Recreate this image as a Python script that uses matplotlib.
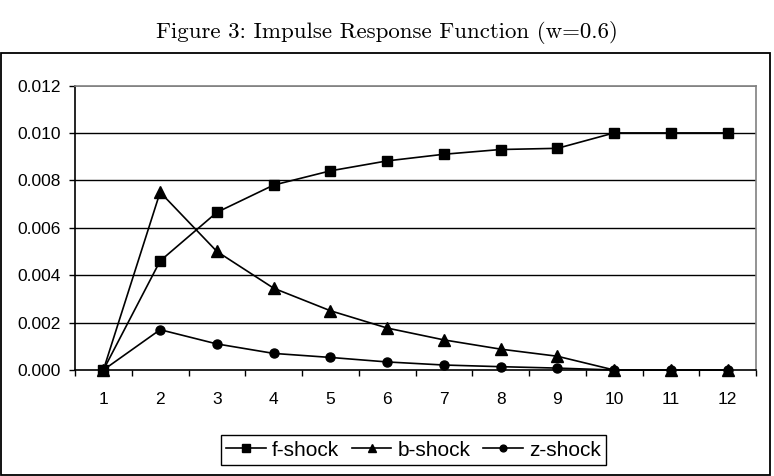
import matplotlib
matplotlib.use("Agg")
import matplotlib.pyplot as plt
from matplotlib.patches import Rectangle

periods = [1, 2, 3, 4, 5, 6, 7, 8, 9, 10, 11, 12]
f_shock = [0.0, 0.0046, 0.00665, 0.0078, 0.0084, 0.00882, 0.0091, 0.0093, 0.00935, 0.0100, 0.0100, 0.0100]
b_shock = [0.0, 0.0075, 0.0050, 0.00345, 0.0025, 0.00177, 0.00127, 0.00088, 0.00058, 0.0, 0.0, 0.0]
z_shock = [0.0, 0.0017, 0.0011, 0.0007, 0.00053, 0.00034, 0.00021, 0.00014, 0.00008, 0.0, 0.0, 0.0]
y_ticks = [0.000, 0.002, 0.004, 0.006, 0.008, 0.010, 0.012]
title = "Figure 3: Impulse Response Function (w=0.6)"

W, H = 774, 476
fig = plt.figure(figsize=(W / 100, H / 100), dpi=100)

# outer frame
fig.patches.append(Rectangle((1 / W, 1.5 / H), 769 / W, 421.5 / H, transform=fig.transFigure,
                             fill=False, edgecolor="black", linewidth=1.3, zorder=0))

fig.text(0.5, (H - 37.7) / H, title, ha="center", va="baseline", fontsize=16.5,
         family=["cmr10", "DejaVu Serif"])

ax = fig.add_axes([75 / W, (H - 370) / H, 681 / W, 284.5 / H])

ax.plot(periods, f_shock, color="black", lw=1.2, marker="s", ms=7, label="f-shock", clip_on=False, zorder=3)
ax.plot(periods, b_shock, color="black", lw=1.2, marker="^", ms=8, label="b-shock", clip_on=False, zorder=3)
ax.plot(periods, z_shock, color="black", lw=1.2, marker="o", ms=6.5, label="z-shock", clip_on=False, zorder=3)

ax.set_xlim(0.5, 12.5)
ax.set_ylim(0, 0.012)
ax.set_yticks(y_ticks)
ax.set_yticklabels([f"{v:.3f}" for v in y_ticks], family="Liberation Sans", fontsize=12.5)
ax.set_xticks(periods)
ax.set_xticklabels([str(p) for p in periods], family="Liberation Sans", fontsize=12.5)
ax.tick_params(axis="x", length=0, pad=15.5)
ax.set_xticks([p - 0.5 for p in periods] + [12.5], minor=True)
ax.tick_params(axis="x", which="minor", length=4.3, direction="out", width=1)
ax.tick_params(axis="y", length=4.3, direction="out", width=1, pad=6)

for v in y_ticks[1:-1]:
    ax.axhline(v, color="black", lw=1.0, zorder=1)
ax.axhline(0.012, color="#808080", lw=1.2, zorder=1)

ax.spines["top"].set_color("#808080")
ax.spines["right"].set_color("#808080")
ax.spines["top"].set_linewidth(1.2)
ax.spines["right"].set_linewidth(1.2)
ax.spines["left"].set_linewidth(1.2)
ax.spines["bottom"].set_linewidth(1.2)

leg = fig.legend(loc="center", bbox_to_anchor=(413.5 / W, (H - 450) / H), ncol=3,
                 frameon=True, fancybox=False, edgecolor="black", framealpha=1,
                 prop={"family": "Liberation Sans", "size": 15}, handlelength=1.9,
                 handletextpad=0.3, columnspacing=0.6, borderpad=0.25, borderaxespad=0,
                 markerscale=0.75)
leg.get_frame().set_linewidth(1.0)

fig.savefig("out.png", dpi=100)
